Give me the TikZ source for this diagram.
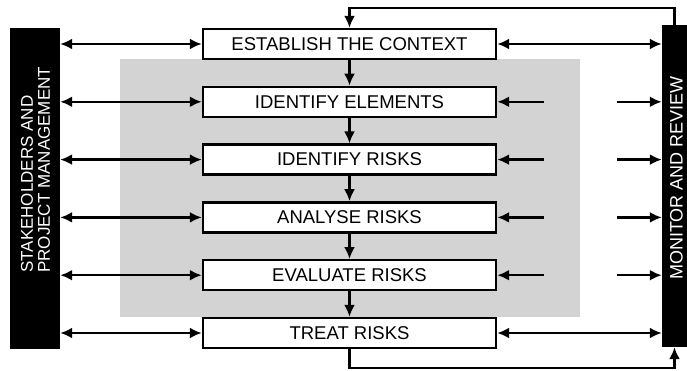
\documentclass[tikz,border=0pt]{standalone}
\usepackage{fontspec}
\setmainfont{Liberation Sans}
\usetikzlibrary{arrows.meta}
\definecolor{panelgrey}{RGB}{211,211,211}
\tikzset{
  >={Latex[length=12pt,width=11pt]},
  linkline/.style={line width=2.4pt},
  stagebox/.style={draw, line width=2.4pt, fill=white, minimum width=293pt,
    minimum height=30pt, inner sep=0pt, font=\fontsize{18.5}{20}\selectfont},
  sidebar/.style={fill=black, inner sep=0pt},
  sidetext/.style={text=white, rotate=90, anchor=west, inner sep=0pt, align=left}
}

\begin{document}
\begin{tikzpicture}[x=1pt,y=-1pt]
    \useasboundingbox (0,0) rectangle (687,370);
    \fill[panelgrey] (120,59) rectangle (580,317);% grey area behind the inner steps

    \node[sidebar, minimum width=50pt, minimum height=321pt] (Stake) at (35,188.5) {};
    \node[sidebar, minimum width=25pt, minimum height=322pt] (Monitor) at (674.5,186) {};
    \node[sidetext, font=\fontsize{17}{17}\selectfont] (StakeText) at (35.5,273)
        {STAKEHOLDERS AND\\PROJECT MANAGEMENT};
    \node[sidetext, font=\fontsize{18}{18}\selectfont] (MonitorText) at (676.5,280)
        {MONITOR AND REVIEW};

    \foreach \name/\txt [count=\i] in {Context/ESTABLISH THE CONTEXT,
        Elements/IDENTIFY ELEMENTS, Risks/IDENTIFY RISKS,
        Analyse/ANALYSE RISKS, Evaluate/EVALUATE RISKS, Treat/TREAT RISKS}{%
      \node[stagebox] (\name) at (349.5,{44+57.8*(\i-1)}) {\txt};
      \draw[linkline,<->] (Stake.east |- \name) -- (\name.west);% to the stakeholders
    }

    % steps follow one another
    \foreach \from/\to in {Context/Elements, Elements/Risks, Risks/Analyse,
        Analyse/Evaluate, Evaluate/Treat}{%
      \draw[linkline,->] (\from.south) -- (\to.north);
    }

    % first and last step talk both ways with monitoring
    \draw[linkline,<->] (Context.east) -- (Monitor.west |- Context);
    \draw[linkline,<->] (Treat.east) -- (Monitor.west |- Treat);

    % inner steps: two loose arrows
    \foreach \name in {Elements, Risks, Analyse, Evaluate}{%
      \path (\name.east) ++(47,0) coordinate (\name-in);
      \path (\name.east) ++(120,0) coordinate (\name-out);
      \draw[linkline,->] (\name-in) -- (\name.east);
      \draw[linkline,->] (\name-out) -- (Monitor.west |- \name);
    }

    % feedback loop round the outside
    \draw[linkline,->] (Monitor.north) -- ++(0,-17) -| (Context.north);
    \draw[linkline,->] (Treat.south) -- ++(0,19) -| (Monitor.south);
\end{tikzpicture}
\end{document}
